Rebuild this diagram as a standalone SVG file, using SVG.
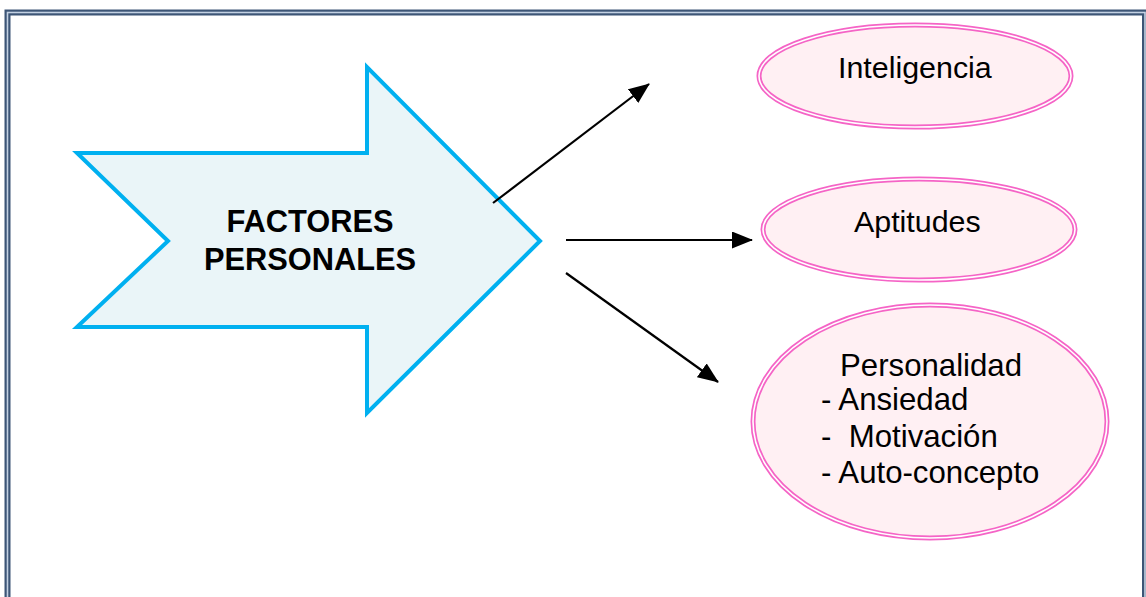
<svg xmlns="http://www.w3.org/2000/svg" width="1146" height="597" viewBox="0 0 1146 597">
<style>
.frame-out{fill:none;stroke:#3d5576;stroke-width:6}
.frame-in{fill:none;stroke:#c3d1e3;stroke-width:1.6}
.big{fill:#eaf5f8;stroke:#00b0f0;stroke-width:4;stroke-linejoin:miter}
.ell{fill:#fff0f3;stroke:#f564c6;stroke-width:5}
.ell-gap{fill:none;stroke:#ffffff;stroke-width:1.6}
.t{font-family:"Liberation Sans",Arial,sans-serif;font-size:30.4px;fill:#000;white-space:pre}
.tp{font-family:"Liberation Sans",Arial,sans-serif;font-size:31.2px;fill:#000;white-space:pre}
.tb{font-family:"Liberation Sans",Arial,sans-serif;font-size:30.8px;font-weight:bold;fill:#000;text-anchor:middle}
.conn{stroke:#000;stroke-width:2.2;fill:none}
</style>
<defs>
<marker id="ah2" markerWidth="21" markerHeight="17" refX="20" refY="8.5" orient="auto" markerUnits="userSpaceOnUse" viewBox="0 0 21 17">
<path d="M0,0 L21,8.5 L0,17 Z" fill="#000"/>
</marker>
</defs>
<rect width="1146" height="597" fill="#fff"/>
<g id="frame">
<rect class="frame-out" x="7.5" y="12.5" width="1137.5" height="620"/>
<rect class="frame-in" x="7.5" y="12.5" width="1137.5" height="620"/>
</g>
<g id="factores">
<polygon class="big" points="77,153 367,153 367,67 540,241 367,413 367,327 77,327 168,241"/>
<text class="tb" x="310" y="232">FACTORES</text>
<text class="tb" x="310" y="270">PERSONALES</text>
</g>
<g id="connectors">
<line class="conn" x1="493" y1="203" x2="649" y2="84" marker-end="url(#ah2)"/>
<line class="conn" x1="566" y1="240" x2="752" y2="240" marker-end="url(#ah2)"/>
<line class="conn" x1="566" y1="273" x2="718" y2="382" marker-end="url(#ah2)"/>
</g>
<g id="inteligencia">
<ellipse class="ell" cx="915" cy="76" rx="156" ry="51"/>
<ellipse class="ell-gap" cx="915" cy="76" rx="156" ry="51"/>
<text class="t" x="838" y="78">Inteligencia</text>
</g>
<g id="aptitudes">
<ellipse class="ell" cx="919" cy="229.5" rx="156" ry="50.5"/>
<ellipse class="ell-gap" cx="919" cy="229.5" rx="156" ry="50.5"/>
<text class="t" x="854" y="232">Aptitudes</text>
</g>
<g id="personalidad">
<ellipse class="ell" cx="930" cy="421.5" rx="177" ry="116.5"/>
<ellipse class="ell-gap" cx="930" cy="421.5" rx="177" ry="116.5"/>
<text class="tp" x="840" y="376">Personalidad</text>
<text class="tp" x="821" y="410">- Ansiedad</text>
<text class="tp" x="821" y="447">-  Motivación</text>
<text class="tp" x="821" y="483">- Auto-concepto</text>
</g>
</svg>
